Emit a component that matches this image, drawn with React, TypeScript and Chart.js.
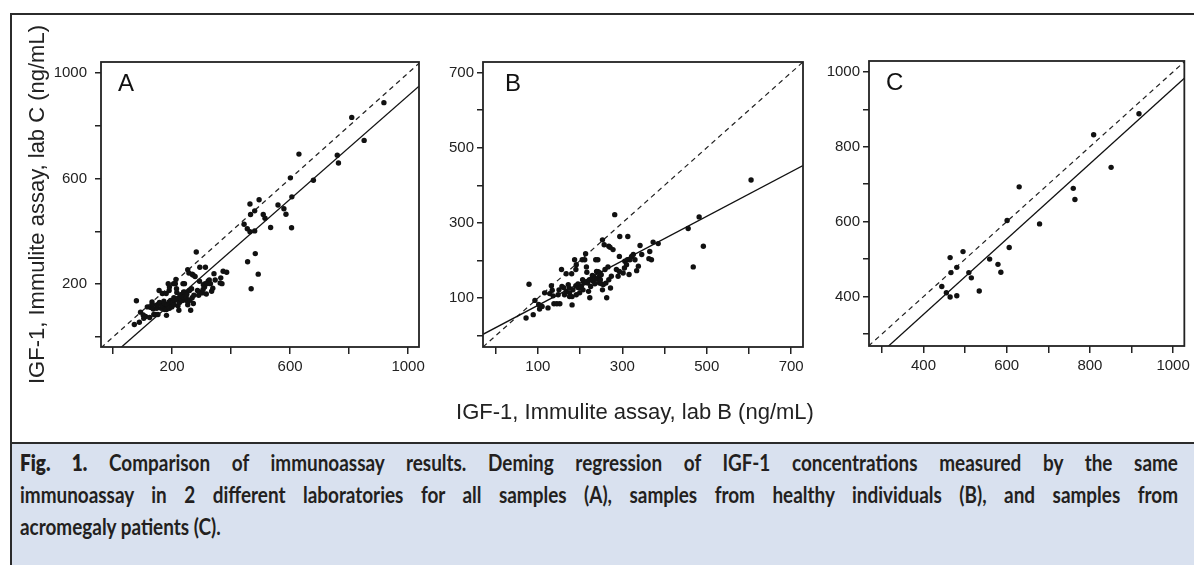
import React, { useEffect, useRef } from "react";
import { Chart, registerables } from "chart.js";

Chart.register(...registerables);

// ---- Data: IGF-1 (ng/mL), lab B (x) vs lab C (y) ----
// Healthy individuals (panel B)
const healthyLabB = [
  72, 89, 79, 93, 102, 104, 110, 116, 124, 128, 132, 134, 136, 138, 145, 152, 148, 150, 156, 157,
  161, 163, 167, 167, 172, 175, 175, 174, 180, 181, 181, 183, 187, 190, 191, 190, 191, 195, 195, 199,
  199, 203, 205, 206, 207, 209, 211, 213, 215, 215, 216, 218, 220, 222, 223, 225, 227, 229, 231, 232,
  235, 235, 237, 239, 240, 242, 243, 245, 246, 247, 248, 250, 251, 253, 253, 255, 257, 259, 261, 263,
  266, 268, 268, 271, 272, 274, 278, 282, 286, 290, 293, 294, 293, 302, 305, 306, 310, 312, 313, 316,
  318, 322, 326, 330, 334, 338, 342, 346, 363, 365, 369, 373, 385, 456, 468, 482, 492, 605,
];
const healthyLabC = [
  47, 56, 137, 94, 83, 71, 78, 114, 74, 112, 133, 121, 106, 85, 85, 85, 109, 122, 176, 131,
  128, 109, 118, 165, 136, 114, 104, 127, 165, 82, 104, 122, 202, 176, 189, 133, 109, 138, 128, 127,
  114, 131, 202, 149, 122, 140, 202, 218, 183, 144, 169, 140, 118, 149, 101, 131, 149, 160, 145, 158,
  138, 153, 202, 171, 150, 202, 170, 156, 140, 167, 149, 162, 138, 255, 122, 136, 242, 176, 140, 101,
  183, 238, 149, 235, 127, 158, 229, 322, 176, 158, 211, 264, 171, 167, 180, 198, 189, 202, 264, 163,
  202, 211, 216, 202, 173, 185, 240, 216, 205, 224, 202, 249, 245, 285, 183, 316, 238, 414,
];
// Acromegaly patients (panel C)
const acroLabB = [
  918, 809, 851, 760, 764, 630, 679, 601, 606, 495, 464, 559, 579, 480, 466, 509, 586, 515, 444, 455,
  534, 464, 480,
];
const acroLabC = [
  888, 832, 745, 689, 659, 693, 594, 603, 531, 520, 504, 500, 486, 478, 464, 464, 465, 450, 427, 410,
  415, 399, 402,
];
// All samples (panel A)
const allLabB = [...healthyLabB, ...acroLabB];
const allLabC = [...healthyLabC, ...acroLabC];

// Deming regression lines (slope, intercept)
const demingSlopes = [0.98, 0.592, 1.006];
const demingIntercepts = [-66, 21.4, -50];

// Ticks and tick labels
const ticksA = [0, 200, 400, 600, 800, 1000];
const tickLabelsA = ["", "200", "", "600", "", "1000"];
const ticksB = [0, 100, 200, 300, 400, 500, 600, 700];
const tickLabelsB = ["", "100", "", "300", "", "500", "", "700"];
const ticksC = [300, 400, 500, 600, 700, 800, 900, 1000];
const tickLabelsC = ["", "400", "", "600", "", "800", "", "1000"];

const FONT = "'Liberation Sans', Arial, Helvetica, sans-serif";
Chart.defaults.font.family = FONT;

const framePlugin = {
  id: "panelFrame",
  afterDraw(chart: any, _args: any, opts: any) {
    const { ctx, chartArea: a } = chart;
    ctx.save();
    ctx.strokeStyle = "#222";
    ctx.lineWidth = 1.8;
    ctx.strokeRect(a.left, a.top, a.right - a.left, a.bottom - a.top);
    if (opts && opts.letter) {
      ctx.fillStyle = "#111";
      ctx.font = `24px ${FONT}`;
      ctx.textBaseline = "alphabetic";
      ctx.textAlign = "left";
      ctx.fillText(opts.letter, a.left + opts.dx, a.top + 29);
    }
    ctx.restore();
  },
};

type PanelProps = {
  xs: number[];
  ys: number[];
  slope: number;
  intercept: number;
  ticks: number[];
  labels: string[];
  letter: string;
  letterDx: number;
  canvas: { left: number; top: number; w: number; h: number };
  area: { left: number; top: number; right: number; bottom: number };
  xRange: [number, number];
  yRange: [number, number];
  yLabelPad: number;
  yTitle?: string;
};

function Panel(p: PanelProps) {
  const ref = useRef<HTMLCanvasElement>(null);
  useEffect(() => {
    const c = ref.current;
    if (!c) return;
    const points = p.xs.map((x, i) => ({ x, y: p.ys[i] }));
    const lo = Math.min(p.xRange[0], p.yRange[0]);
    const hi = Math.max(p.xRange[1], p.yRange[1]);
    const identity = [
      { x: lo, y: lo },
      { x: hi, y: hi },
    ];
    const fit = [
      { x: p.xRange[0], y: p.slope * p.xRange[0] + p.intercept },
      { x: p.xRange[1], y: p.slope * p.xRange[1] + p.intercept },
    ];
    const padTop = p.area.top - p.canvas.top;
    const padRight = p.canvas.left + p.canvas.w - p.area.right;
    const yWidth = p.area.left - p.canvas.left;
    const xHeight = p.canvas.top + p.canvas.h - p.area.bottom;
    const tickFont = { family: FONT, size: 15 };
    const chart = new Chart(c, {
      type: "scatter",
      data: {
        datasets: [
          {
            data: points,
            backgroundColor: "#111",
            borderColor: "#111",
            borderWidth: 0,
            pointRadius: 2.7,
            pointHoverRadius: 2.7,
          },
          {
            data: fit,
            showLine: true,
            borderColor: "#111",
            borderWidth: 1.3,
            pointRadius: 0,
            clip: 0,
          },
          {
            data: identity,
            showLine: true,
            borderColor: "#222",
            borderWidth: 1.2,
            borderDash: [5, 4],
            pointRadius: 0,
            clip: 0,
          },
        ],
      } as any,
      options: {
        animation: false,
        responsive: false,
        maintainAspectRatio: false,
        devicePixelRatio: 1,
        events: [],
        layout: { padding: { left: 0, top: padTop, right: padRight, bottom: 0 } },
        plugins: {
          legend: { display: false },
          tooltip: { enabled: false },
          panelFrame: { letter: p.letter, dx: p.letterDx },
        } as any,
        scales: {
          x: {
            type: "linear",
            position: "bottom",
            min: p.xRange[0],
            max: p.xRange[1],
            afterBuildTicks: (s: any) => {
              s.ticks = p.ticks.map((v) => ({ value: v }));
            },
            afterFit: (s: any) => {
              s.height = xHeight;
            },
            ticks: {
              autoSkip: false,
              maxRotation: 0,
              padding: 4,
              font: tickFont,
              color: "#222",
              callback: (_v: any, i: number) => p.labels[i],
            },
            grid: { drawOnChartArea: false, drawTicks: true, tickLength: 7, color: "#222", lineWidth: 1.5 },
            border: { display: false },
          },
          y: {
            type: "linear",
            position: "left",
            min: p.yRange[0],
            max: p.yRange[1],
            afterBuildTicks: (s: any) => {
              s.ticks = p.ticks.map((v) => ({ value: v }));
            },
            afterFit: (s: any) => {
              s.width = yWidth;
            },
            ticks: {
              autoSkip: false,
              padding: p.yLabelPad,
              font: tickFont,
              color: "#222",
              callback: (_v: any, i: number) => p.labels[i],
            },
            grid: { drawOnChartArea: false, drawTicks: true, tickLength: 6, color: "#222", lineWidth: 1.5 },
            border: { display: false },
            title: p.yTitle
              ? {
                  display: true,
                  text: p.yTitle,
                  color: "#222",
                  font: { family: FONT, size: 22 },
                  padding: { top: 25, bottom: 0 },
                }
              : { display: false },
          },
        },
      } as any,
      plugins: [framePlugin],
    });
    return () => chart.destroy();
  }, []);
  return (
    <canvas
      ref={ref}
      width={p.canvas.w}
      height={p.canvas.h}
      style={{ position: "absolute", left: p.canvas.left, top: p.canvas.top, width: p.canvas.w, height: p.canvas.h }}
    />
  );
}

const CAPTION_SCALE = 0.86;

export default function App() {
  const lineStyle: React.CSSProperties = { textAlign: "justify", textAlignLast: "justify" as any };
  return (
    <div style={{ position: "fixed", left: 0, top: 0, width: 1194, height: 565, background: "#fff", overflow: "hidden" }}>
      <div
        style={{
          position: "absolute",
          left: 10,
          top: 13,
          width: 1300,
          height: 431,
          boxSizing: "border-box",
          borderLeft: "2px solid #2b2b2b",
          borderTop: "2px solid #2b2b2b",
          borderBottom: "2px solid #2b2b2b",
        }}
      />
      <div
        style={{
          position: "absolute",
          left: 10,
          top: 444,
          width: 1300,
          height: 130,
          boxSizing: "border-box",
          background: "#d9e1ef",
          borderLeft: "2px solid #2b2b2b",
        }}
      />
      <Panel
        xs={allLabB}
        ys={allLabC}
        slope={demingSlopes[0]}
        intercept={demingIntercepts[0]}
        ticks={ticksA}
        labels={tickLabelsA}
        letter="A"
        letterDx={17}
        canvas={{ left: 0, top: 0, w: 440, h: 400 }}
        area={{ left: 101, top: 62, right: 419, bottom: 347 }}
        xRange={[-41, 1037]}
        yRange={[-38, 1042]}
        yLabelPad={8}
        yTitle="IGF-1, Immulite assay, lab C (ng/mL)"
      />
      <Panel
        xs={healthyLabB}
        ys={healthyLabC}
        slope={demingSlopes[1]}
        intercept={demingIntercepts[1]}
        ticks={ticksB}
        labels={tickLabelsB}
        letter="B"
        letterDx={22}
        canvas={{ left: 420, top: 0, w: 400, h: 400 }}
        area={{ left: 483, top: 62, right: 803, bottom: 347 }}
        xRange={[-30, 728]}
        yRange={[-30, 728]}
        yLabelPad={3}
      />
      <Panel
        xs={acroLabB}
        ys={acroLabC}
        slope={demingSlopes[2]}
        intercept={demingIntercepts[2]}
        ticks={ticksC}
        labels={tickLabelsC}
        letter="C"
        letterDx={17}
        canvas={{ left: 800, top: 0, w: 394, h: 400 }}
        area={{ left: 869, top: 61, right: 1188, bottom: 346 }}
        xRange={[269, 1027]}
        yRange={[268, 1029]}
        yLabelPad={3}
      />
      <div
        style={{
          position: "absolute",
          left: 335,
          top: 399,
          width: 600,
          textAlign: "center",
          fontFamily: FONT,
          fontSize: 22,
          lineHeight: "26px",
          color: "#222",
        }}
      >
        IGF-1, Immulite assay, lab B (ng/mL)
      </div>
      <div
        style={{
          position: "absolute",
          left: 20,
          top: 447,
          width: 1158 / CAPTION_SCALE,
          transform: `scaleX(${CAPTION_SCALE})`,
          transformOrigin: "left top",
          fontFamily: "Lato, 'Open Sans', sans-serif",
          fontSize: 22,
          fontWeight: 700,
          lineHeight: "32px",
          color: "#231f20",
        }}
      >
        <div style={lineStyle}>
          <span style={{ fontWeight: 800 }}>Fig. 1.</span> Comparison of immunoassay results. Deming regression of IGF-1
          concentrations measured by the same
        </div>
        <div style={lineStyle}>
          immunoassay in 2 different laboratories for all samples (A), samples from healthy individuals (B), and samples from
        </div>
        <div>acromegaly patients (C).</div>
      </div>
    </div>
  );
}
